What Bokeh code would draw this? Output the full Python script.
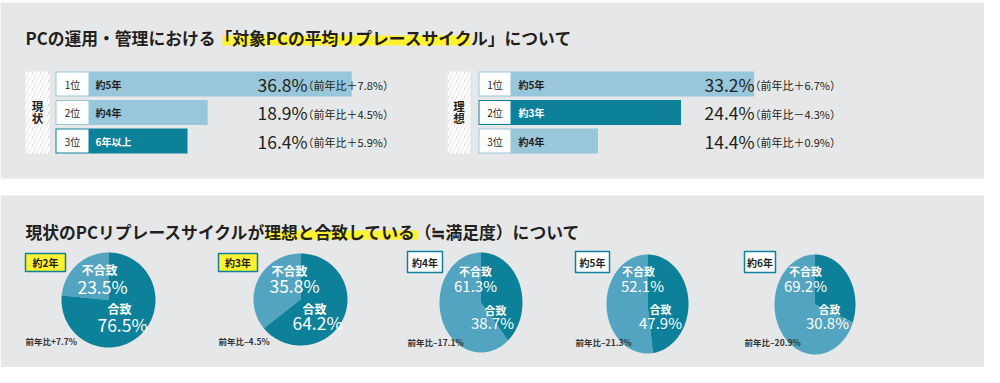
import math
from bokeh.plotting import figure
from bokeh.models import Range1d
from bokeh.core.properties import value
from bokeh.embed import file_html
from bokeh.resources import INLINE

# ---------------- data ----------------
TITLE1 = "PCの運用・管理における「対象PCの平均リプレースサイクル」について"
TITLE2 = "現状のPCリプレースサイクルが理想と合致している（≒満足度）について"

ranks = ["1位", "2位", "3位"]
now_label = "現状"
now_cats = ["約5年", "約4年", "6年以上"]
now_vals = [36.8, 18.9, 16.4]
now_chg = [7.8, 4.5, 5.9]

ideal_label = "理想"
ideal_cats = ["約5年", "約3年", "約4年"]
ideal_vals = [33.2, 24.4, 14.4]
ideal_chg = [6.7, -4.3, 0.9]

pie_cats = ["約2年", "約3年", "約4年", "約5年", "約6年"]
mismatch_vals = [23.5, 35.8, 61.3, 52.1, 69.2]
match_vals = [76.5, 64.2, 38.7, 47.9, 30.8]
pie_chg = [7.7, -4.5, -17.1, -21.3, -20.9]

# ---------------- style ----------------
FONT = "Noto Sans CJK JP"
GREY = "#e6e7e8"
DARK = "#231f20"
TEAL = "#0c8199"
LIGHT_BAR = "#98c6da"
LIGHT_PIE = "#52a4c1"
YELLOW = "#fff230"

W, H = 984, 367
p = figure(width=W, height=H, x_range=Range1d(0, W), y_range=Range1d(H, 0),
           output_backend="svg", toolbar_location=None, min_border=0)
p.axis.visible = False
p.grid.visible = False
p.outline_line_color = None
p.background_fill_color = "white"
p.border_fill_color = "white"


def txt(x, y, s, size, color=DARK, bold=False, align="left", baseline="middle"):
    p.text(x=[x], y=[y], text=[s], text_font=value(FONT),
           text_font_size=f"{size}px", text_font_style="bold" if bold else "normal",
           text_color=color, text_align=align, text_baseline=baseline)


# panels
p.quad(left=[0, 0], right=[W, W], top=[2, 195], bottom=[178, 370],
       fill_color=GREY, line_color=None)

# titles with highlight
p.quad(left=[222], right=[470], top=[35], bottom=[45], fill_color=YELLOW, line_color=None)
txt(25, 37, TITLE1, 16.8, bold=True)
p.quad(left=[266], right=[418], top=[230], bottom=[239], fill_color=YELLOW, line_color=None)
txt(25, 231, TITLE2, 16.8, bold=True)

# ---------------- bar sections ----------------
rows_y = [83.5, 112, 140.5]
p.extra_x_ranges = {
    "now": Range1d(-55 / 8.05, (W - 55) / 8.05),
    "ideal": Range1d(-478 / 8.3, (W - 478) / 8.3),
}

sections = [
    dict(rng="now", label=now_label, cats=now_cats, vals=now_vals, chg=now_chg, dark=2,
         hatch=(25, 49), box=(56, 88), cat_x=95, val_x=257, chg_x=302),
    dict(rng="ideal", label=ideal_label, cats=ideal_cats, vals=ideal_vals, chg=ideal_chg, dark=1,
         hatch=(447, 470), box=(479, 510), cat_x=518, val_x=704, chg_x=749),
]

for s in sections:
    colors = [TEAL if i == s["dark"] else LIGHT_BAR for i in range(len(s["vals"]))]
    # hatched label box
    p.quad(left=[s["hatch"][0]], right=[s["hatch"][1]], top=[71], bottom=[153],
           fill_color="#dcdddf", hatch_pattern="/", hatch_color="white",
           hatch_weight=3, hatch_scale=8, line_color=None)
    hx = (s["hatch"][0] + s["hatch"][1]) / 2
    txt(hx, 105, s["label"][0], 11.5, bold=True, align="center")
    txt(hx, 117, s["label"][1], 11.5, bold=True, align="center")
    # bars
    p.hbar(y=rows_y, left=0, right=s["vals"], height=25, fill_color=colors,
           line_color=None, x_range_name=s["rng"])
    # rank boxes
    p.quad(left=[s["box"][0]] * 3, right=[s["box"][1]] * 3,
           top=[y - 11.5 for y in rows_y], bottom=[y + 11.5 for y in rows_y],
           fill_color="white", line_color=None)
    bx = (s["box"][0] + s["box"][1]) / 2
    for i, y in enumerate(rows_y):
        txt(bx, y, ranks[i], 10, align="center")
        txt(s["cat_x"], y, s["cats"][i], 10, bold=True,
            color="white" if i == s["dark"] else DARK)
        txt(s["val_x"], y, f"{s['vals'][i]:.1f}%", 17.5)
        sign = "＋" if s["chg"][i] >= 0 else "－"
        txt(s["chg_x"], y + 1, f"（前年比{sign}{abs(s['chg'][i]):.1f}%）", 11)

# ---------------- pies ----------------
pie_centers = [(108, 299.5), (300, 299), (480.5, 302), (647, 303.5), (814.5, 304)]
pie_radii = [(47, 47.5), (47, 46), (41.5, 50), (41, 49.5), (40.5, 50)]
badges = [(25, 65, 253, 271), (218, 257, 253, 271), (407, 442, 251, 272),
          (575, 609, 251, 272), (744, 775, 251, 272)]
badge_fill = [YELLOW, YELLOW, "white", "white", "white"]
lbl_no = [(99, 269), (289, 270), (475, 270), (638, 270), (805, 270)]
pct_no = [(102, 286), (294, 285), (475, 285), (642, 285), (805, 285)]
lbl_yes = [(119, 308), (314, 308), (495, 309), (660, 308), (829, 308)]
pct_yes = [(122, 324), (317, 322), (492, 322), (660, 322), (827, 322)]
chg_y = [340, 340, 341, 341, 341]
lbl_size = [12, 12, 11, 11, 11]
pct_size = [17.5, 17.5, 15, 15, 15]


def arc_poly(cx, cy, rx, ry, a0, a1, n=120):
    xs, ys = [cx], [cy]
    for k in range(n + 1):
        a = math.radians(a0 + (a1 - a0) * k / n)
        xs.append(cx + rx * math.cos(a))
        ys.append(cy - ry * math.sin(a))
    return xs, ys


for i in range(len(pie_cats)):
    cx, cy = pie_centers[i]
    rx, ry = pie_radii[i]
    tot = mismatch_vals[i] + match_vals[i]
    a_split = 90 + 360 * mismatch_vals[i] / tot
    x1, y1 = arc_poly(cx, cy, rx, ry, 90, a_split)
    x2, y2 = arc_poly(cx, cy, rx, ry, a_split, 450)
    p.patches(xs=[x1, x2], ys=[y1, y2], fill_color=[LIGHT_PIE, TEAL], line_color=None)

    l, r, t, b = badges[i]
    p.quad(left=[l], right=[r], top=[t], bottom=[b], fill_color=badge_fill[i],
           line_color=TEAL, line_width=1.5)
    txt((l + r) / 2, (t + b) / 2, pie_cats[i], 10, bold=True, align="center")

    txt(*lbl_no[i], "不合致", lbl_size[i], color="white", bold=True, align="center")
    txt(*pct_no[i], f"{mismatch_vals[i]:.1f}%", pct_size[i], color="white", align="center")
    txt(*lbl_yes[i], "合致", lbl_size[i], color="white", bold=True, align="center")
    txt(*pct_yes[i], f"{match_vals[i]:.1f}%", pct_size[i], color="white", align="center")

    c = pie_chg[i]
    sign = "+" if c >= 0 else "–"
    txt(l, chg_y[i], f"前年比{sign}{abs(c):.1f}%", 8.5, color="#333333", bold=True)

open("out.html", "w").write(file_html(p, INLINE))
